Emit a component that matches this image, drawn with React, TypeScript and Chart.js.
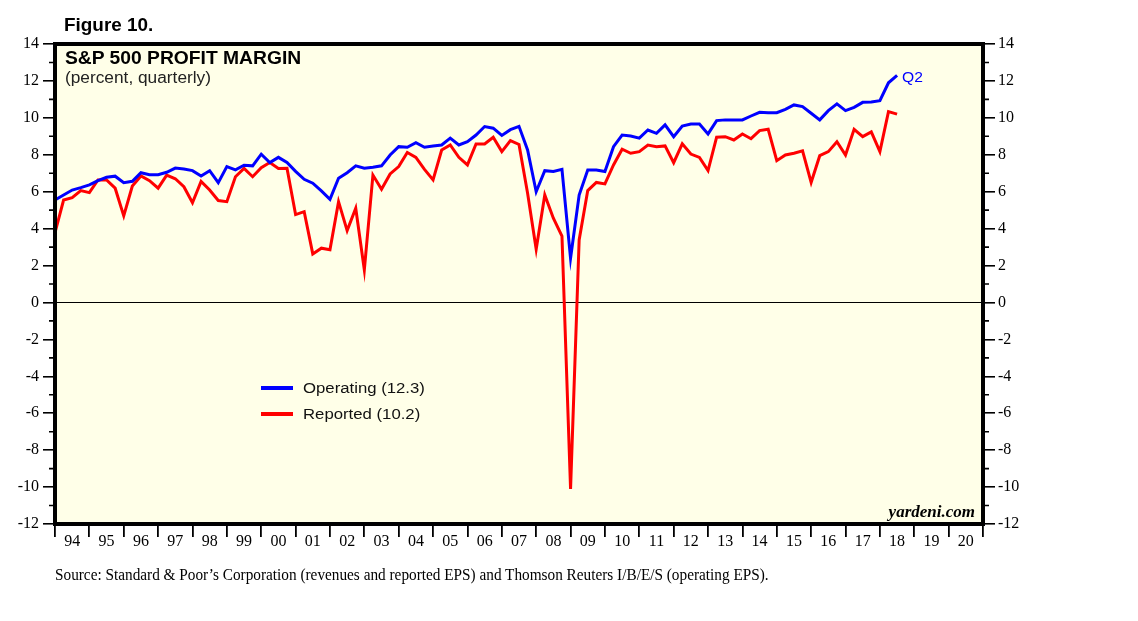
import React, { useEffect, useRef } from 'react';
import { Chart, registerables } from 'chart.js';

Chart.register(...registerables);

// Quarterly data, 1993 Q4 through 2018 Q2 (values plotted at quarter end)
const firstQuarterEnd = 1994.0; // end of 1993 Q4
const operating: number[] = [
  5.55, 5.82, 6.09, 6.22, 6.37, 6.6, 6.78, 6.84, 6.49, 6.56,
  7.03, 6.92, 6.92, 7.05, 7.28, 7.23, 7.14, 6.85, 7.14, 6.49,
  7.36, 7.18, 7.43, 7.4, 8.03, 7.58, 7.86, 7.58, 7.1, 6.67,
  6.46, 6.04, 5.59, 6.73, 7.03, 7.4, 7.27, 7.32, 7.4, 7.99,
  8.44, 8.41, 8.66, 8.41, 8.48, 8.53, 8.9, 8.53, 8.71, 9.07,
  9.53, 9.44, 9.05, 9.36, 9.54, 8.26, 6.0, 7.14, 7.09, 7.21,
  2.4, 5.82, 7.18, 7.18, 7.09, 8.44, 9.07, 9.02, 8.9, 9.34,
  9.16, 9.62, 8.98, 9.56, 9.67, 9.67, 9.13, 9.85, 9.89, 9.89,
  9.89, 10.1, 10.3, 10.28, 10.28, 10.46, 10.7, 10.61, 10.25, 9.89,
  10.39, 10.76, 10.39, 10.57, 10.84, 10.86, 10.93, 11.9, 12.3,
];
const reported: number[] = [
  3.78, 5.55, 5.68, 6.06, 5.95, 6.64, 6.64, 6.19, 4.69, 6.31,
  6.85, 6.6, 6.19, 6.9, 6.7, 6.27, 5.4, 6.56, 6.09, 5.52,
  5.46, 6.81, 7.26, 6.81, 7.3, 7.58, 7.26, 7.27, 4.76, 4.92,
  2.63, 2.94, 2.85, 5.46, 3.89, 5.1, 1.76, 6.9, 6.13, 6.96,
  7.36, 8.12, 7.86, 7.21, 6.64, 8.26, 8.53, 7.86, 7.45, 8.59,
  8.59, 8.95, 8.17, 8.77, 8.56, 5.92, 2.88, 5.82, 4.56, 3.6,
  -10.1, 3.39, 6.06, 6.5, 6.42, 7.45, 8.3, 8.08, 8.17, 8.53,
  8.44, 8.48, 7.57, 8.59, 8.04, 7.86, 7.14, 8.95, 8.98, 8.8,
  9.13, 8.87, 9.31, 9.38, 7.68, 7.99, 8.08, 8.21, 6.5, 7.95,
  8.17, 8.71, 7.99, 9.38, 8.98, 9.24, 8.17, 10.34, 10.2,
];
const quarterX: number[] = operating.map((_, i) => firstQuarterEnd + i * 0.25);

const xMinYear = 1994;
const xMaxYear = 2021;
const yMin = -12;
const yMax = 14;
const yStep = 2;

const legendLabels = ['Operating (12.3)', 'Reported (10.2)'];
const seriesColors = ['#0000FF', '#FF0000'];

const SERIF = '"Liberation Serif", "Times New Roman", serif';
const SANS = '"Liberation Sans", Arial, Helvetica, sans-serif';

const framePlugin = {
  id: 'framePlugin',
  beforeDatasetsDraw(chart: any) {
    const { ctx, chartArea: a, scales } = chart;
    ctx.save();
    ctx.fillStyle = '#FFFFE8';
    ctx.fillRect(a.left, a.top, a.right - a.left, a.bottom - a.top);
    const y0 = Math.round(scales.y.getPixelForValue(0)) + 0.5;
    ctx.strokeStyle = '#000';
    ctx.lineWidth = 1;
    ctx.beginPath();
    ctx.moveTo(a.left, y0);
    ctx.lineTo(a.right, y0);
    ctx.stroke();
    ctx.restore();
  },
  afterDatasetsDraw(chart: any) {
    const { ctx, chartArea: a, scales } = chart;
    ctx.save();
    ctx.strokeStyle = '#000';
    ctx.lineWidth = 1.6;
    for (let v = yMin + 1; v < yMax; v += 2) {
      const y = scales.y.getPixelForValue(v);
      ctx.beginPath();
      ctx.moveTo(a.left - 6, y);
      ctx.lineTo(a.left, y);
      ctx.moveTo(a.right, y);
      ctx.lineTo(a.right + 6, y);
      ctx.stroke();
    }
    ctx.lineWidth = 4;
    ctx.strokeRect(a.left, a.top, a.right - a.left, a.bottom - a.top);
    ctx.restore();
  },
};

function yAxis(position: 'left' | 'right', width: number, padding: number) {
  return {
    type: 'linear' as const,
    position,
    min: yMin,
    max: yMax,
    afterFit: (s: any) => {
      s.width = width;
    },
    ticks: {
      stepSize: yStep,
      padding,
      color: '#000',
      font: { family: SERIF, size: 16 },
    },
    grid: {
      drawOnChartArea: false,
      drawTicks: true,
      tickLength: 12,
      color: '#000',
      lineWidth: 1.6,
    },
    border: { display: false },
  };
}

export default function App() {
  const canvasRef = useRef<HTMLCanvasElement | null>(null);

  useEffect(() => {
    const canvas = canvasRef.current;
    if (!canvas) return;
    const chart = new Chart(canvas, {
      type: 'line',
      data: {
        datasets: [
          {
            label: 'Operating',
            data: operating.map((v, i) => ({ x: quarterX[i], y: v })),
            borderColor: seriesColors[0],
            borderWidth: 3,
            pointRadius: 0,
            tension: 0,
            fill: false,
          },
          {
            label: 'Reported',
            data: reported.map((v, i) => ({ x: quarterX[i], y: v })),
            borderColor: seriesColors[1],
            borderWidth: 3,
            pointRadius: 0,
            tension: 0,
            fill: false,
          },
        ],
      },
      options: {
        responsive: false,
        animation: false,
        layout: { padding: { top: 44, left: 0, right: 0, bottom: 0 } },
        plugins: {
          legend: { display: false },
          tooltip: { enabled: false },
          title: { display: false },
        },
        scales: {
          x: {
            type: 'linear',
            min: xMinYear,
            max: xMaxYear,
            afterFit: (s: any) => {
              s.height = 97;
            },
            ticks: {
              stepSize: 1,
              autoSkip: false,
              maxRotation: 0,
              minRotation: 0,
              labelOffset: 17.2,
              padding: -5,
              color: '#000',
              font: { family: SERIF, size: 16 },
              callback: (v: any) =>
                Number(v) >= xMaxYear ? '' : String(Number(v) % 100).padStart(2, '0'),
            },
            grid: {
              drawOnChartArea: false,
              drawTicks: true,
              tickLength: 13,
              color: '#000',
              lineWidth: 1.8,
            },
            border: { display: false },
          },
          y: yAxis('left', 55, 4),
          y2: yAxis('right', 155, 3),
        },
      } as any,
      plugins: [framePlugin],
    });
    return () => chart.destroy();
  }, []);

  const abs = (extra: React.CSSProperties): React.CSSProperties => ({
    position: 'absolute',
    whiteSpace: 'nowrap',
    lineHeight: 1,
    margin: 0,
    color: '#000',
    ...extra,
  });

  return (
    <div
      style={{
        position: 'fixed',
        left: 0,
        top: 0,
        width: 1138,
        height: 621,
        background: '#fff',
        overflow: 'hidden',
      }}
    >
      <canvas ref={canvasRef} width={1138} height={621} style={{ width: 1138, height: 621, display: 'block' }} />
      <div style={abs({ left: 64, top: 17, fontFamily: SANS, fontWeight: 'bold', fontSize: 17.5, transform: 'scaleX(1.08)', transformOrigin: 'left top' })}>
        Figure 10.
      </div>
      <div style={abs({ left: 64.5, top: 49.3, fontFamily: SANS, fontWeight: 'bold', fontSize: 18, transform: 'scaleX(1.07)', transformOrigin: 'left top' })}>
        S&amp;P 500 PROFIT MARGIN
      </div>
      <div style={abs({ left: 65, top: 70, fontFamily: SANS, fontSize: 16, color: '#222', transform: 'scaleX(1.08)', transformOrigin: 'left top' })}>
        (percent, quarterly)
      </div>
      <div style={{ position: 'absolute', left: 261, top: 385.5, width: 32, height: 4, background: seriesColors[0] }} />
      <div style={{ position: 'absolute', left: 261, top: 411.8, width: 32, height: 4, background: seriesColors[1] }} />
      <div style={abs({ left: 303, top: 379.7, fontFamily: SANS, fontSize: 15.5, color: '#111', transform: 'scaleX(1.08)', transformOrigin: 'left top' })}>
        {legendLabels[0]}
      </div>
      <div style={abs({ left: 303, top: 406, fontFamily: SANS, fontSize: 15.5, color: '#111', transform: 'scaleX(1.08)', transformOrigin: 'left top' })}>
        {legendLabels[1]}
      </div>
      <div style={abs({ left: 902, top: 69.7, fontFamily: SANS, fontSize: 14.5, color: seriesColors[0], transform: 'scaleX(1.08)', transformOrigin: 'left top' })}>
        Q2
      </div>
      <div style={abs({ right: 163, top: 503.1, fontFamily: SERIF, fontWeight: 'bold', fontStyle: 'italic', fontSize: 17 })}>
        yardeni.com
      </div>
      <div style={abs({ left: 55, top: 567.2, fontFamily: SERIF, fontSize: 16.5, transform: 'scaleX(0.926)', transformOrigin: 'left top' })}>
        Source: Standard &amp; Poor’s Corporation (revenues and reported EPS) and Thomson Reuters I/B/E/S (operating EPS).
      </div>
    </div>
  );
}
